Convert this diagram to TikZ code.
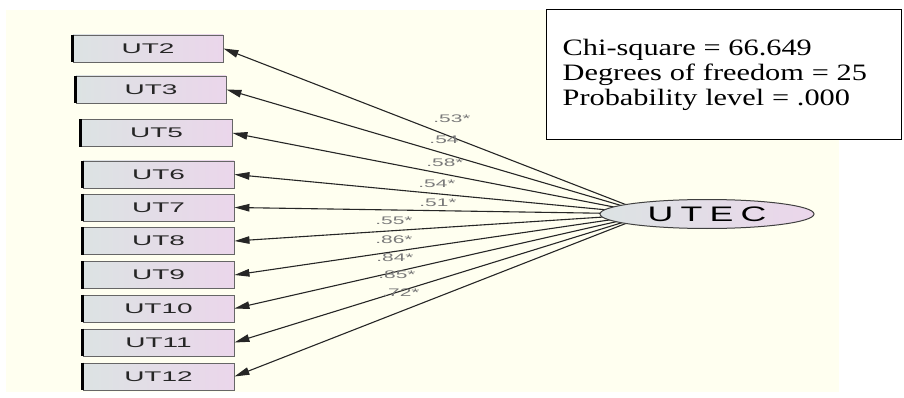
\documentclass[tikz,border=0pt]{standalone}
\usepackage{fontspec}
\usetikzlibrary{arrows.meta,shapes.geometric}
\newfontfamily\statfont[FakeStretch=1.29]{Liberation Serif}
\newfontfamily\amosfont{Liberation Sans}
\newfontfamily\latentfont[LetterSpace=20]{Liberation Sans}
\newcommand{\widetext}[2]{\scalebox{#1}[1]{#2}}
\definecolor{cream}{HTML}{FFFFF0}
\definecolor{boxgray}{HTML}{DCE3E3}
\definecolor{boxpink}{HTML}{EBD6EB}
\definecolor{coefgray}{HTML}{7A7A7A}
\begin{document}
\begin{tikzpicture}[x=1pt,y=-1pt,
  obs/.style={draw=black!60, line width=0.9pt, left color=boxgray, right color=boxpink,
    minimum height=27pt, inner sep=0pt, text=black!85,
    font=\amosfont\fontsize{14}{14}\selectfont},
  latent/.style={ellipse, draw=black!75, line width=1pt, left color=boxgray, right color=boxpink,
    minimum width=214pt, minimum height=29pt, inner sep=0pt,
    font=\latentfont\fontsize{21}{21}\selectfont},
  loading/.style={draw=black!85, line width=1.1pt, -{Triangle[length=15pt,width=7.5pt]}},
  coef/.style={text=coefgray, inner sep=0pt, font=\amosfont\fontsize{11}{11}\selectfont},
  statbox/.style={draw=black, line width=1.4pt, fill=white, anchor=north west,
    text width=323pt, minimum height=130pt, inner xsep=16pt, inner ysep=0pt, align=left,
    font=\statfont\fontsize{23.5}{24.7}\selectfont}]
\useasboundingbox (0,0) rectangle (904,398);
\fill[cream] (6,10) rectangle (839,392);

% observed indicators
\node[obs, minimum width=150pt] (ut2)  at (148,48.5)    {\widetext{2}{UT2}};
\node[obs, minimum width=150pt] (ut3)  at (151,89.5)    {\widetext{2}{UT3}};
\node[obs, minimum width=151pt] (ut5)  at (156.5,133)   {\widetext{2}{UT5}};
\node[obs, minimum width=151pt] (ut6)  at (158.5,174.5) {\widetext{2}{UT6}};
\node[obs, minimum width=151pt] (ut7)  at (158.5,207.5) {\widetext{2}{UT7}};
\node[obs, minimum width=151pt] (ut8)  at (158.5,241)   {\widetext{2}{UT8}};
\node[obs, minimum width=151pt] (ut9)  at (158.5,275)   {\widetext{2}{UT9}};
\node[obs, minimum width=151pt] (ut10) at (158.5,308.5) {\widetext{2}{UT10}};
\node[obs, minimum width=151pt] (ut11) at (158.5,342.5) {\widetext{2}{UT11}};
\node[obs, minimum width=151pt] (ut12) at (158.5,376.5) {\widetext{2}{UT12}};
\foreach \n in {2,3,5,6,7,8,9,10,11,12}
  \draw[line width=2.2pt] (ut\n.north west) -- (ut\n.south west);

% loadings fan out from the latent factor
\coordinate (hub) at (650,214);
\foreach \n in {2,3,5,6,7,8,9,10,11,12}
  \draw[loading] (hub) -- (ut\n.east);

\node[latent] (utec) at (707,214) {\widetext{1.7}{UTEC}};

% standardized loadings
\node[coef] (c2)  at (452,119) {\widetext{1.9}{.53*}};
\node[coef] (c3)  at (444,140) {\widetext{1.9}{.54}};
\node[coef] (c5)  at (445,163) {\widetext{1.9}{.58*}};
\node[coef] (c6)  at (437,184) {\widetext{1.9}{.54*}};
\node[coef] (c7)  at (438,203) {\widetext{1.9}{.51*}};
\node[coef] (c8)  at (394,221) {\widetext{1.9}{.55*}};
\node[coef] (c9)  at (394,240) {\widetext{1.9}{.86*}};
\node[coef] (c10) at (395,258) {\widetext{1.9}{.84*}};
\node[coef] (c11) at (397,275) {\widetext{1.9}{.85*}};
\node[coef] (c12) at (401,293) {\widetext{1.9}{.72*}};

% fit statistics
\node[statbox] (fit) at (546,9) {Chi-square = 66.649\\Degrees of freedom = 25\\Probability level = .000};
\end{tikzpicture}
\end{document}
